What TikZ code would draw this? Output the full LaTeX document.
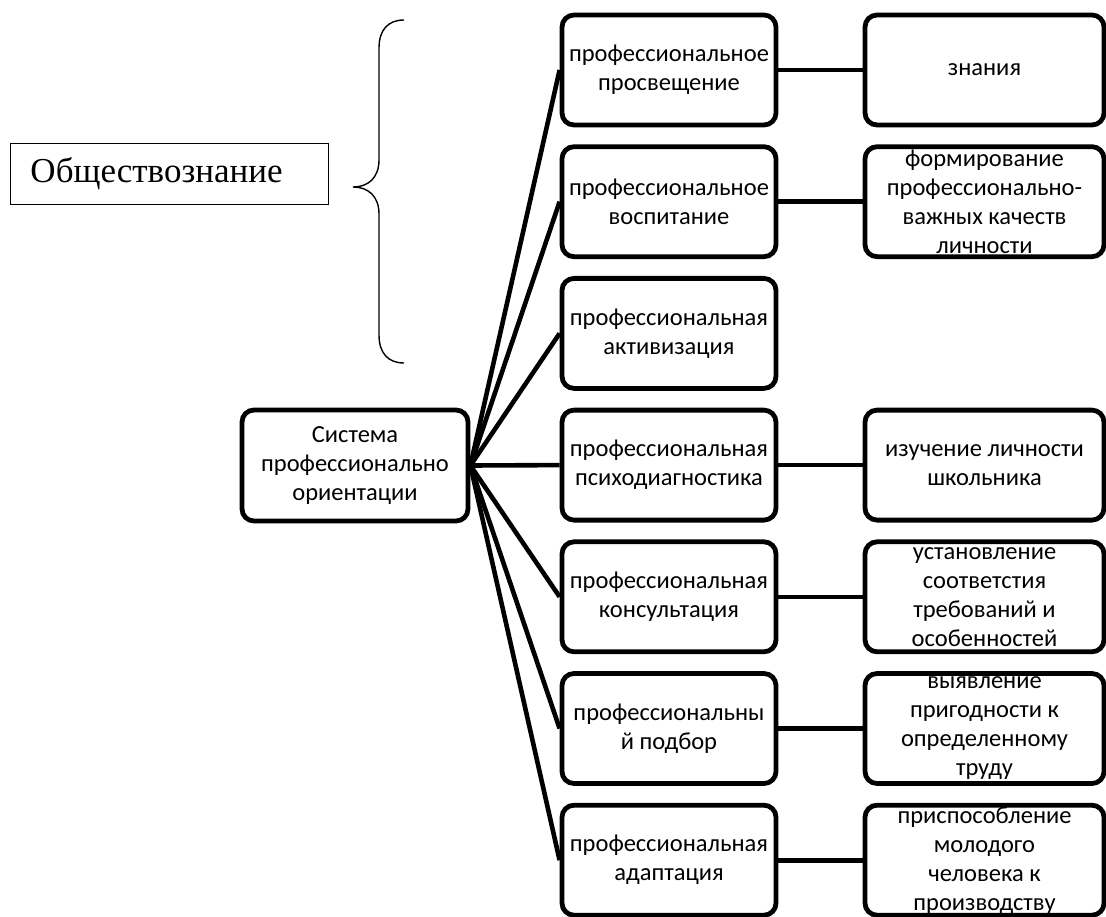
\documentclass[tikz,border=0pt]{standalone}
\usepackage{fontspec}
\setmainfont{Carlito}
\newfontfamily\seriffont{Liberation Serif}
\begin{document}
\begin{tikzpicture}[x=1pt,y=-1pt,
  box/.style={draw, line width=4.8pt, rounded corners=12pt, align=center,
    inner sep=0pt, font=\fontsize{24.5}{29}\selectfont},
  midbox/.style={box, minimum width=214pt, minimum height=110pt},
  rbox/.style={box, minimum width=239pt, minimum height=110pt},
  conn/.style={line width=4.6pt},
  brace/.style={line width=1.4pt}]
\useasboundingbox (0,0) rectangle (1106,917);

\node[draw, line width=1.3pt, inner xsep=20pt, inner ysep=0pt, text width=278pt,
  minimum height=61pt, align=left, font=\seriffont\fontsize{35}{40}\selectfont]
  (obsh) at (169.5,174) {Обществознание};

\draw[brace] (404,20) .. controls (388,20) and (379,30) .. (379,48)
  -- (379,160) .. controls (379,178) and (368,187) .. (353,187)
  .. controls (368,187) and (379,196) .. (379,214)
  -- (379,335) .. controls (379,353) and (388,363) .. (404,363);

\node[box, minimum width=226pt, minimum height=111pt] (sys) at (355,465.5)
  {Система\\профессионально\\ориентации};

\node[midbox] (m1) at (669,70)    {профессиональное\\просвещение};
\node[midbox] (m2) at (669,201.7) {профессиональное\\воспитание};
\node[midbox] (m3) at (669,333.4) {профессиональная\\активизация};
\node[midbox] (m4) at (669,465.1) {профессиональная\\психодиагностика};
\node[midbox] (m5) at (669,596.8) {профессиональная\\консультация};
\node[midbox] (m6) at (669,728.5) {профессиональны\\й подбор};
\node[midbox] (m7) at (669,860.2) {профессиональная\\адаптация};

\node[rbox] (r1) at (984.5,70)    {знания};
\node[rbox] (r2) at (984.5,201.7) {формирование\\профессионально-\\важных качеств\\личности};
\node[rbox] (r4) at (984.5,465.1) {изучение личности\\школьника};
\node[rbox] (r5) at (984.5,596.8) {установление\\соответстия\\требований и\\особенностей};
\node[rbox] (r6) at (984.5,728.5) {выявление\\пригодности к\\определенному\\труду};
\node[rbox] (r7) at (984.5,860.2) {приспособление\\молодого\\человека к\\производству};

\foreach \m in {m1,m2,m3,m4,m5,m6,m7}
  \draw[conn] (sys.east) -- (\m.west);
\foreach \a/\b in {m1/r1,m2/r2,m4/r4,m5/r5,m6/r6,m7/r7}
  \draw[conn] (\a.east) -- (\b.west);
\end{tikzpicture}
\end{document}
